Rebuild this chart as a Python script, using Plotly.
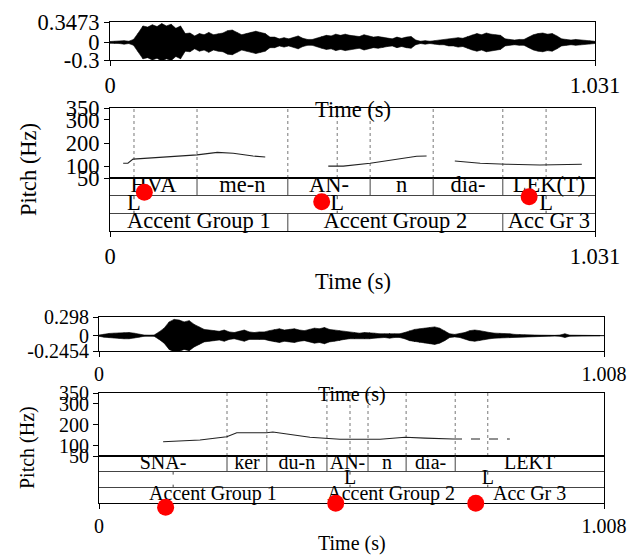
import plotly.graph_objects as go

W, H = 628, 555
FONT = "Liberation Serif"

# ================= utterance 1 =================
dur1 = 1.031
wave1_tickvals = [-0.3, 0, 0.3473]
wave1_ticktext = ["-0.3", "0", "0.3473"]
wave1_step = 0.01
wave1_env = [0.015, 0.02, 0.02, 0.03, 0.02, 0.05, 0.16, 0.28, 0.26, 0.30,
             0.27, 0.32, 0.28, 0.31, 0.24, 0.28, 0.15, 0.16, 0.11, 0.15,
             0.13, 0.17, 0.13, 0.15, 0.16, 0.20, 0.21, 0.17, 0.13, 0.15,
             0.17, 0.19, 0.17, 0.15, 0.09, 0.09, 0.06, 0.08, 0.06, 0.08,
             0.11, 0.07, 0.05, 0.05, 0.07, 0.10, 0.12, 0.11, 0.14, 0.12,
             0.14, 0.12, 0.11, 0.10, 0.13, 0.11, 0.09, 0.10, 0.09, 0.07,
             0.06, 0.09, 0.07, 0.09, 0.10, 0.04, 0.02, 0.03, 0.02, 0.03,
             0.04, 0.04, 0.06, 0.06, 0.08, 0.07, 0.10, 0.13, 0.15, 0.13,
             0.16, 0.14, 0.13, 0.12, 0.06, 0.05, 0.04, 0.05, 0.05, 0.09,
             0.13, 0.15, 0.16, 0.14, 0.15, 0.11, 0.06, 0.05, 0.04, 0.05,
             0.04, 0.03, 0.03, 0.02]
pitch1_tickvals = [50, 100, 200, 300, 350]
pitch1_a_t = [0.028, 0.038, 0.049, 0.121, 0.185, 0.228, 0.262, 0.304, 0.330]
pitch1_a_hz = [113, 113, 131, 141, 149, 160, 156, 144, 140]
pitch1_b_t = [0.464, 0.496, 0.553, 0.616, 0.652, 0.673]
pitch1_b_hz = [101, 101, 113, 131, 143, 144]
pitch1_c_t = [0.733, 0.787, 0.843, 0.914, 1.003]
pitch1_c_hz = [123, 113, 109, 106, 109]
words1_edges = [0, 0.185, 0.378, 0.553, 0.687, 0.835, 1.031]
words1_labels = ["HVA", "me-n", "AN-", "n", "dia-", "LEK(T)"]
tones1_times = [0.051, 0.483, 0.927]
tones1_labels = ["L", "L", "L"]
groups1_edges = [0, 0.378, 0.835, 1.031]
groups1_labels = ["Accent Group 1", "Accent Group 2", "Acc Gr 3"]
marks1_t = [0.073, 0.450, 0.891]
marks1_tier = [2.19, 1.66, 1.94]

# ================= utterance 2 =================
dur2 = 1.008
wave2_tickvals = [-0.2454, 0, 0.298]
wave2_ticktext = ["-0.2454", "0", "0.298"]
wave2_step = 0.01
wave2_env = [0.01, 0.025, 0.035, 0.04, 0.045, 0.05, 0.05, 0.04, 0.025, 0.01,
             0.008, 0.01, 0.06, 0.12, 0.22, 0.26, 0.25, 0.22, 0.24, 0.18,
             0.14, 0.10, 0.09, 0.08, 0.07, 0.09, 0.06, 0.05, 0.07, 0.09,
             0.06, 0.05, 0.06, 0.06, 0.08, 0.10, 0.11, 0.09, 0.10, 0.11,
             0.09, 0.08, 0.10, 0.12, 0.11, 0.13, 0.10, 0.09, 0.08, 0.06,
             0.05, 0.05, 0.04, 0.05, 0.05, 0.04, 0.03, 0.03, 0.04, 0.03,
             0.03, 0.05, 0.08, 0.10, 0.11, 0.12, 0.13, 0.14, 0.12, 0.08,
             0.03, 0.02, 0.03, 0.05, 0.08, 0.09, 0.08, 0.06, 0.05, 0.04,
             0.04, 0.03, 0.03, 0.02, 0.02, 0.015, 0.01, 0.01, 0.008, 0.005,
             0.008, 0.005, 0.01, 0.03, 0.008, 0.005, 0.004, 0.004, 0.003, 0.003,
             0.003]
pitch2_tickvals = [50, 100, 200, 300, 350]
pitch2_a_t = [0.128, 0.2016, 0.255, 0.275, 0.335, 0.347, 0.421, 0.4545, 0.481,
              0.561, 0.611, 0.651, 0.7066]
pitch2_a_hz = [118, 126, 142, 161, 161, 164, 139, 134, 130, 130, 139, 135, 131]
pitch2_b_t = [0.7066, 0.820]
pitch2_b_hz = [131, 131]
words2_edges = [0, 0.2555, 0.335, 0.455, 0.537, 0.613, 0.711, 1.008]
words2_labels = ["SNA-", "ker", "du-n", "AN-", "n", "dia-", "LEKT"]
tones2_times = [0.148, 0.501, 0.776]
tones2_labels = ["", "L", "L"]
groups2_edges = [0, 0.455, 0.711, 1.008]
groups2_labels = ["Accent Group 1", "Accent Group 2", "Acc Gr 3"]
marks2_t = [0.133, 0.4725, 0.752]
marks2_tier = [-0.31, -0.05, -0.05]

# ================= layout helpers =================
def dx(l, r):
    return [l / W, r / W]

def dy(top, bottom):
    return [1 - bottom / H, 1 - top / H]

fig = go.Figure()
layout = dict(width=W, height=H, autosize=False,
              margin=dict(l=0, r=0, t=0, b=0, autoexpand=False),
              paper_bgcolor="white", plot_bgcolor="rgba(0,0,0,0)", showlegend=False)
annotations = []


def base_axis(fs, **kw):
    d = dict(showline=True, linecolor="black", linewidth=1.2, mirror=True,
             showgrid=False, zeroline=False, ticks="outside", ticklen=5,
             tickcolor="black", tickwidth=1.2, automargin=False,
             tickfont=dict(family=FONT, size=fs, color="black"))
    d.update(kw)
    return d


def panel(k0, xl, xr, wave_px, pitch_top, tg_top, tg_bot, fs, dur, wtv, wtt,
          wstep, wenv, ptv, psegs, wedges, wlabels, ttimes, tlabels, gedges,
          glabels, gbounds, mt, mtier, title_ys, pitch_title_y):
    kw, kp, kt, km = k0, k0 + 1, k0 + 2, k0 + 6
    xdom = dx(xl, xr)
    # waveform: filled envelope plus spikes at each envelope sample
    times = [i * wstep for i in range(len(wenv))]
    px = times + times[::-1]
    py = list(wenv) + [-a for a in wenv[::-1]]
    fig.add_trace(go.Scatter(x=px, y=py, mode="lines", fill="toself",
                             fillcolor="black", line=dict(color="black", width=0.6),
                             xaxis=f"x{kw}", yaxis=f"y{kw}", hoverinfo="skip"))
    sx, sy = [], []
    for t, a in zip(times, wenv):
        sx += [t, t, None]
        sy += [-a, a, None]
    fig.add_trace(go.Scatter(x=sx, y=sy, mode="lines",
                             line=dict(color="black", width=0.8),
                             xaxis=f"x{kw}", yaxis=f"y{kw}", hoverinfo="skip"))
    fig.add_trace(go.Scatter(x=[0, dur], y=[0, 0], mode="lines",
                             line=dict(color="black", width=1),
                             xaxis=f"x{kw}", yaxis=f"y{kw}", hoverinfo="skip"))
    layout[f"xaxis{kw}"] = base_axis(fs, domain=xdom, anchor=f"y{kw}", range=[0, dur],
                                     tickvals=[0, dur], ticktext=["0", f"{dur:g}"])
    layout[f"yaxis{kw}"] = base_axis(fs, domain=dy(*wave_px), anchor=f"x{kw}",
                                     range=[wtv[0], wtv[-1]], tickvals=wtv, ticktext=wtt)
    # pitch: dotted boundary lines
    dots = wedges[1:-1] + [t for t, l in zip(ttimes, tlabels) if l]
    vx, vy = [], []
    for b in dots:
        vx += [b, b, None]
        vy += [ptv[0], ptv[-1], None]
    fig.add_trace(go.Scatter(x=vx, y=vy, mode="lines",
                             line=dict(color="#777", width=1, dash="dot"),
                             xaxis=f"x{kp}", yaxis=f"y{kp}", hoverinfo="skip"))
    for (st, sh, dash) in psegs:
        fig.add_trace(go.Scatter(x=st, y=sh, mode="lines",
                                 line=dict(color="#222", width=1.1, dash=dash),
                                 xaxis=f"x{kp}", yaxis=f"y{kp}", hoverinfo="skip"))
    layout[f"xaxis{kp}"] = base_axis(fs, domain=xdom, anchor=f"y{kp}", range=[0, dur],
                                     ticks="", showticklabels=False)
    layout[f"yaxis{kp}"] = base_axis(fs, domain=dy(pitch_top, tg_top), anchor=f"x{kp}",
                                     range=[ptv[0], ptv[-1]], tickvals=ptv,
                                     ticktext=[str(v) for v in ptv])
    # textgrid
    bx, by = [], []
    for b in wedges[1:-1]:
        bx += [b, b, None]
        by += [2, 3, None]
    if gbounds:
        for b in gedges[1:-1]:
            bx += [b, b, None]
            by += [0, 1, None]
    for t in ttimes:
        bx += [t, t, None, t, t, None]
        by += [2, 1.8, None, 1, 1.15, None]
    fig.add_trace(go.Scatter(x=bx, y=by, mode="lines",
                             line=dict(color="#444", width=1),
                             xaxis=f"x{kt}", yaxis=f"y{kt}", hoverinfo="skip"))
    txt_x, txt_y, txt = [], [], []
    for i, l in enumerate(wlabels):
        txt_x.append((wedges[i] + wedges[i + 1]) / 2); txt_y.append(2.5); txt.append(l)
    for t, l in zip(ttimes, tlabels):
        txt_x.append(t); txt_y.append(1.5); txt.append(l)
    for i, l in enumerate(glabels):
        txt_x.append((gedges[i] + gedges[i + 1]) / 2); txt_y.append(0.5); txt.append(l)
    fig.add_trace(go.Scatter(x=txt_x, y=txt_y, text=txt, mode="text",
                             textposition="middle center", cliponaxis=False,
                             textfont=dict(family=FONT, size=fs, color="black"),
                             xaxis=f"x{kt}", yaxis=f"y{kt}", hoverinfo="skip"))
    layout[f"xaxis{kt}"] = base_axis(fs, domain=xdom, anchor=f"y{kt}", range=[0, dur],
                                     tickvals=[0, dur], ticktext=["0", f"{dur:g}"])
    layout[f"yaxis{kt}"] = base_axis(fs, domain=dy(tg_top, tg_bot), anchor=f"x{kt}",
                                     range=[0, 3], tickvals=[1, 2], ticks="",
                                     showticklabels=False, showgrid=True,
                                     gridcolor="#444", gridwidth=1)
    # transparent overlay axes (same tier units, extended below) for the red marks
    extra = 20
    lo = -extra * 3 / (tg_bot - tg_top)
    fig.add_trace(go.Scatter(x=mt, y=mtier, mode="markers", cliponaxis=False,
                             marker=dict(color="#ff0000", size=17, line=dict(width=0)),
                             xaxis=f"x{km}", yaxis=f"y{km}", hoverinfo="skip"))
    layout[f"xaxis{km}"] = dict(domain=xdom, anchor=f"y{km}", range=[0, dur],
                                visible=False, automargin=False, showgrid=False)
    layout[f"yaxis{km}"] = dict(domain=dy(tg_top, tg_bot + extra), anchor=f"x{km}",
                                range=[lo, 3], visible=False, automargin=False,
                                showgrid=False)
    xc = (xdom[0] + xdom[1]) / 2
    for ty in title_ys:
        annotations.append(dict(text="Time (s)", x=xc, y=1 - ty / H, xref="paper",
                                yref="paper", showarrow=False, xanchor="center",
                                yanchor="middle",
                                font=dict(family=FONT, size=fs, color="black")))
    annotations.append(dict(text="Pitch (Hz)", x=pitch_title_y[0] / W,
                            y=1 - pitch_title_y[1] / H, xref="paper", yref="paper",
                            showarrow=False, textangle=-90, xanchor="center",
                            yanchor="middle",
                            font=dict(family=FONT, size=fs, color="black")))


panel(1, 110, 595, (22, 60), 108, 178, 231, 22.5, dur1,
      wave1_tickvals, wave1_ticktext, wave1_step, wave1_env, pitch1_tickvals,
      [(pitch1_a_t, pitch1_a_hz, "solid"), (pitch1_b_t, pitch1_b_hz, "solid"),
       (pitch1_c_t, pitch1_c_hz, "solid")],
      words1_edges, words1_labels, tones1_times, tones1_labels,
      groups1_edges, groups1_labels, True, marks1_t, marks1_tier,
      [110, 281], (28, 169))

panel(4, 99, 604, (317, 351), 393, 456, 502.5, 20, dur2,
      wave2_tickvals, wave2_ticktext, wave2_step, wave2_env, pitch2_tickvals,
      [(pitch2_a_t, pitch2_a_hz, "solid"), (pitch2_b_t, pitch2_b_hz, "dash")],
      words2_edges, words2_labels, tones2_times, tones2_labels,
      groups2_edges, groups2_labels, False, marks2_t, marks2_tier,
      [395, 543], (27, 448))

layout["annotations"] = annotations
fig.update_layout(**layout)
fig.write_html("out.html", config={"displayModeBar": False},
               post_script="document.body.style.margin='0';"
                           "document.body.style.padding='0';")
